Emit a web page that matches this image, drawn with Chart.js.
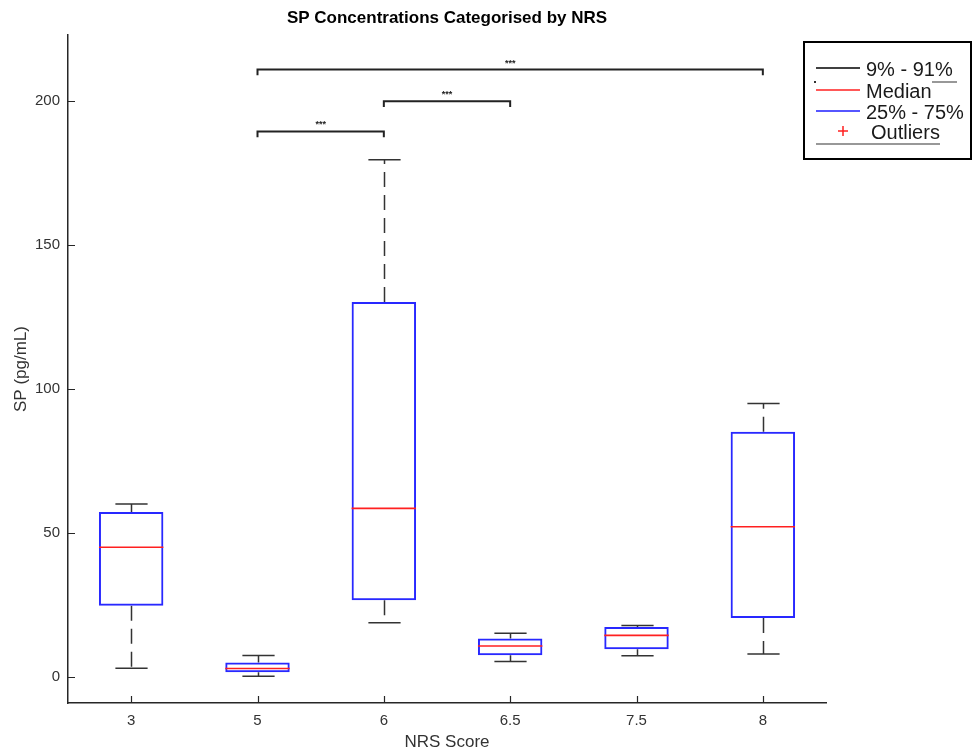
<!DOCTYPE html>
<html lang="en">
<head>
    <meta charset="UTF-8">
    <title>SP Concentrations Categorised by NRS</title>
    <script src="https://cdn.jsdelivr.net/npm/chart.js"></script>
    <style>
        html, body { margin: 0; padding: 0; background: #ffffff; }
        #wrap { width: 974px; height: 751px; }
    </style>
</head>
<body>
    <div id="wrap"><canvas id="spChart"></canvas></div>

    <script>
        // --- Data: SP (pg/mL) per NRS score group ---
        const nrsLabels = ['3', '5', '6', '6.5', '7.5', '8'];
        const p9 = [3.1, 0.3, 18.9, 5.4, 7.4, 8.0];         // 9th percentile (lower whisker)
        const q1 = [24.8, 1.7, 26.7, 7.6, 9.7, 20.5];       // 25th percentile
        const medians = [45.1, 3.0, 58.6, 10.8, 14.5, 52.2];
        const q3 = [57.3, 5.1, 130.3, 13.4, 17.4, 85.2];    // 75th percentile
        const p91 = [60.1, 7.5, 179.7, 15.2, 17.9, 95.0];   // 91st percentile (upper whisker)
        const yTicks = [0, 50, 100, 150, 200];

        // significance brackets: from group, to group, bracket height
        const sigFrom = ['5', '6', '5'];
        const sigTo = ['6', '6.5', '8'];
        const sigHeight = [189.5, 200, 211];
        const sigText = '***';

        const chartTitle = 'SP Concentrations Categorised by NRS';
        const legendLabels = ['9% - 91%', 'Median', '25% - 75%', 'Outliers'];

        const FONT = "'Liberation Sans', Arial, Helvetica, sans-serif";
        const AXIS_COLOR = '#262626';
        const BOX_COLOR = 'rgb(40, 40, 255)';
        const MEDIAN_COLOR = '#ff2020';
        const WHISKER_COLOR = '#333333';

        // whiskers, medians, inward ticks, brackets, title and the legend box
        const boxPlotExtras = {
            id: 'boxPlotExtras',
            beforeDatasetsDraw(chart) {
                const ctx = chart.ctx;
                const y = chart.scales.y;
                const bars = chart.getDatasetMeta(0).data;
                ctx.save();
                ctx.strokeStyle = WHISKER_COLOR;
                ctx.lineWidth = 1.5;
                bars.forEach((bar, i) => {
                    const x = Math.round(bar.x) + 0.5;
                    const capHalf = bar.width / 4;
                    // dashed whiskers
                    ctx.setLineDash([15, 8]);
                    ctx.beginPath();
                    ctx.moveTo(x, y.getPixelForValue(q3[i]));
                    ctx.lineTo(x, y.getPixelForValue(p91[i]));
                    ctx.moveTo(x, y.getPixelForValue(q1[i]));
                    ctx.lineTo(x, y.getPixelForValue(p9[i]));
                    ctx.stroke();
                    // caps
                    ctx.setLineDash([]);
                    ctx.beginPath();
                    [p91[i], p9[i]].forEach(v => {
                        const py = y.getPixelForValue(v);
                        ctx.moveTo(x - capHalf, py);
                        ctx.lineTo(x + capHalf, py);
                    });
                    ctx.stroke();
                });
                ctx.restore();
            },
            afterDatasetsDraw(chart) {
                const ctx = chart.ctx;
                const { x: xs, y: ys } = chart.scales;
                const area = chart.chartArea;
                const bars = chart.getDatasetMeta(0).data;
                ctx.save();

                // median lines
                ctx.strokeStyle = MEDIAN_COLOR;
                ctx.lineWidth = 1.6;
                bars.forEach((bar, i) => {
                    const py = ys.getPixelForValue(medians[i]);
                    ctx.beginPath();
                    ctx.moveTo(bar.x - bar.width / 2, py);
                    ctx.lineTo(bar.x + bar.width / 2, py);
                    ctx.stroke();
                });

                // inward tick marks (matlab style)
                ctx.strokeStyle = AXIS_COLOR;
                ctx.lineWidth = 1.2;
                ctx.beginPath();
                yTicks.forEach(v => {
                    const py = Math.round(ys.getPixelForValue(v)) + 0.5;
                    ctx.moveTo(area.left, py);
                    ctx.lineTo(area.left + 7, py);
                });
                nrsLabels.forEach((_, i) => {
                    const px = Math.round(xs.getPixelForValue(i)) + 0.5;
                    ctx.moveTo(px, area.bottom);
                    ctx.lineTo(px, area.bottom - 7);
                });
                ctx.stroke();

                // significance brackets
                ctx.strokeStyle = '#222222';
                ctx.fillStyle = '#222222';
                ctx.lineWidth = 2;
                ctx.font = 'bold 9px ' + FONT;
                ctx.textAlign = 'center';
                ctx.textBaseline = 'bottom';
                sigHeight.forEach((h, k) => {
                    const x1 = xs.getPixelForValue(nrsLabels.indexOf(sigFrom[k]));
                    const x2 = xs.getPixelForValue(nrsLabels.indexOf(sigTo[k]));
                    const py = ys.getPixelForValue(h);
                    const pyEnd = ys.getPixelForValue(h - 2);
                    ctx.beginPath();
                    ctx.moveTo(x1, pyEnd);
                    ctx.lineTo(x1, py);
                    ctx.lineTo(x2, py);
                    ctx.lineTo(x2, pyEnd);
                    ctx.stroke();
                    ctx.fillText(sigText, (x1 + x2) / 2, py - 2);
                });

                // title, centred over the plot area
                ctx.fillStyle = '#000000';
                ctx.font = 'bold 17px ' + FONT;
                ctx.textAlign = 'center';
                ctx.textBaseline = 'middle';
                ctx.fillText(chartTitle, (area.left + area.right) / 2, 18);

                // legend box
                const lx = area.right - 22;
                const ly = 42;
                ctx.lineWidth = 2;
                ctx.strokeStyle = '#000000';
                ctx.strokeRect(lx, ly, 167, 117);

                const rowY = [68, 90, 111, 131];
                const swatch = ['#000000', MEDIAN_COLOR, 'rgb(30, 30, 255)', MEDIAN_COLOR];
                ctx.font = '20px ' + FONT;
                ctx.textAlign = 'left';
                ctx.textBaseline = 'middle';
                ctx.lineWidth = 1.5;
                legendLabels.forEach((label, i) => {
                    ctx.strokeStyle = swatch[i];
                    ctx.beginPath();
                    if (i < 3) {
                        ctx.moveTo(lx + 12, rowY[i]);
                        ctx.lineTo(lx + 56, rowY[i]);
                    } else {
                        ctx.moveTo(lx + 34, rowY[i]);
                        ctx.lineTo(lx + 44, rowY[i]);
                        ctx.moveTo(lx + 39, rowY[i] - 5);
                        ctx.lineTo(lx + 39, rowY[i] + 5);
                    }
                    ctx.stroke();
                    ctx.fillStyle = '#1a1a1a';
                    ctx.fillText(label, lx + (i < 3 ? 62 : 67), rowY[i] + 2);
                });

                // stray underline strokes inside the legend
                ctx.strokeStyle = '#333333';
                ctx.lineWidth = 1.2;
                ctx.beginPath();
                ctx.moveTo(lx + 128, 82);
                ctx.lineTo(lx + 153, 82);
                ctx.moveTo(lx + 12, 144);
                ctx.lineTo(lx + 136, 144);
                ctx.stroke();
                ctx.fillStyle = '#333333';
                ctx.fillRect(lx + 10, 81, 2, 2);

                ctx.restore();
            }
        };

        new Chart(document.getElementById('spChart'), {
            type: 'bar',
            data: {
                labels: nrsLabels,
                datasets: [{
                    label: '25% - 75%',
                    data: nrsLabels.map((_, i) => [q1[i], q3[i]]),
                    backgroundColor: 'rgba(0, 0, 0, 0)',
                    borderColor: BOX_COLOR,
                    borderWidth: 2,
                    borderSkipped: false,
                    barPercentage: 0.51,
                    categoryPercentage: 1.0
                }]
            },
            options: {
                responsive: true,
                maintainAspectRatio: false,
                animation: false,
                layout: { padding: { left: 0, right: 148, top: 35, bottom: 0 } },
                plugins: {
                    legend: { display: false },
                    tooltip: { enabled: false },
                    title: { display: false }
                },
                scales: {
                    x: {
                        offset: true,
                        grid: { display: false, drawTicks: false },
                        border: { display: true, color: AXIS_COLOR, width: 1.5 },
                        ticks: { color: '#333333', font: { family: FONT, size: 15 }, padding: 9 },
                        title: {
                            display: true,
                            text: 'NRS Score',
                            color: '#333333',
                            font: { family: FONT, size: 17 },
                            padding: { top: 0, bottom: -2 }
                        },
                        afterFit: scale => { scale.height = 48; }
                    },
                    y: {
                        min: -9,
                        max: 223,
                        grid: { display: false, drawTicks: false },
                        border: { display: true, color: AXIS_COLOR, width: 1.5 },
                        ticks: { color: '#333333', font: { family: FONT, size: 15 }, padding: 8 },
                        afterBuildTicks: scale => { scale.ticks = yTicks.map(v => ({ value: v })); },
                        title: {
                            display: true,
                            text: 'SP (pg/mL)',
                            color: '#333333',
                            font: { family: FONT, size: 17 },
                            padding: { top: 11, bottom: 0 }
                        },
                        afterFit: scale => { scale.width = 68; }
                    }
                }
            },
            plugins: [boxPlotExtras]
        });
    </script>
</body>
</html>
